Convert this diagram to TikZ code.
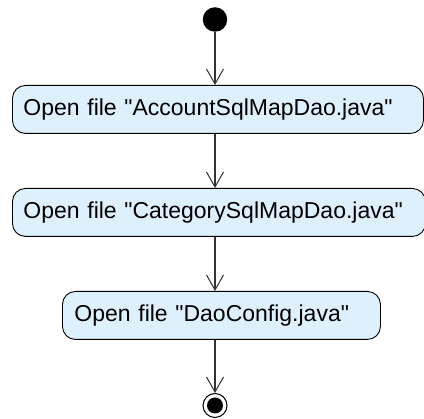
\documentclass[tikz,border=0pt]{standalone}
\usepackage{fontspec}
\setmainfont{Liberation Sans}
\usetikzlibrary{arrows.meta}
\definecolor{actfill}{RGB}{221,240,252}
\definecolor{flowline}{RGB}{51,51,51}
\tikzset{
  action/.style={
    draw=black,
    line width=0.9pt,
    fill=actfill,
    rounded corners=13pt,
    minimum height=48pt,
    inner xsep=11pt,
    inner ysep=0pt,
    anchor=north west,
    align=left,
    font=\fontsize{23}{27}\selectfont
  },
  initial/.style={circle, fill=black, minimum size=24.5pt, inner sep=0pt},
  final/.style={circle, draw=black, line width=1pt, fill=white, minimum size=24pt, inner sep=0pt},
  flow/.style={draw=flowline, line width=1.2pt, -{Straight Barb[length=15pt,width=17pt,line width=1pt]}},
}

\begin{document}
\begin{tikzpicture}[x=1pt,y=1pt]
  \useasboundingbox (0,0) rectangle (424,-419);
  \node[initial] (start) at (215,-19.5) {};
  \node[action, text width=389pt] (act1) at (12,-85) {Open file \textquotedbl AccountSqlMapDao.java\textquotedbl};
  \node[action, text width=391pt] (act2) at (12,-188) {Open file \textquotedbl CategorySqlMapDao.java\textquotedbl};
  \node[action, text width=294pt, inner xsep=12pt] (act3) at (62,-291) {Open file \textquotedbl DaoConfig.java\textquotedbl};
  \node[final] (stop) at (215,-405.5) {};
  \fill (stop) circle (8pt);
  % transitions
  \draw[flow] (start) -- (act1.north -| start);
  \draw[flow] (act1.south -| start) -- (act2.north -| start);
  \draw[flow] (act2.south -| start) -- (act3.north -| start);
  \draw[flow] (act3.south -| start) -- (stop);
\end{tikzpicture}
\end{document}
